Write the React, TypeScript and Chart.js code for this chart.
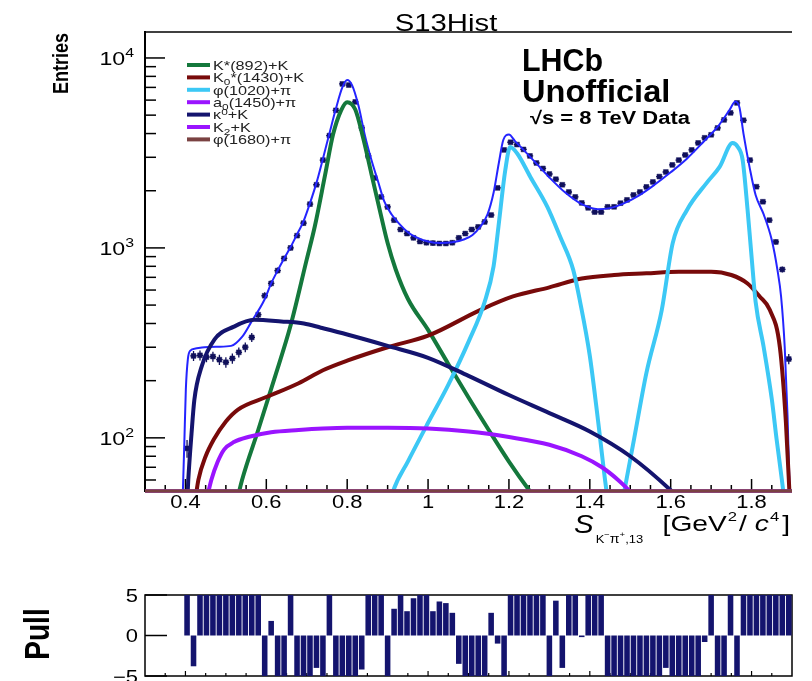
import React, { useEffect, useRef } from 'react';
import { Chart, registerables } from 'chart.js';
Chart.register(...registerables);

// ---------- axis / binning ----------
const X_MIN = 0.3;
const X_MAX = 1.9;
const Y_MIN = 52.5;
const Y_MAX = 13700;
const BIN_START = 0.3;
const BIN_WIDTH = 0.016;
const FIRST_DATA_BIN = 6;

const xTickValues = [0.4, 0.6, 0.8, 1.0, 1.2, 1.4, 1.6, 1.8];
const xTickLabels = ['0.4', '0.6', '0.8', '1', '1.2', '1.4', '1.6', '1.8'];
const yTickValues = [100, 1000, 10000];
const yTickExponents = ['2', '3', '4'];
const pullTickValues = [5, 0, -5];
const pullTickLabels = ['5', '0', '\u22125'];

// ---------- data (entries per bin, bins 6..99) ----------
const dataCounts = [
  88, 270, 272, 266, 268, 258, 250, 262, 282, 300, 338, 445, 560, 650, 760, 880, 1000, 1160, 1350, 1700,
  2150, 2900, 3900, 5300, 7300, 7200, 5870, 4280, 3050, 2335, 1855, 1643, 1400, 1250, 1190, 1130, 1080, 1065, 1060, 1055,
  1055, 1065, 1130, 1190, 1250, 1290, 1370, 1490, 2070, 3280, 3600, 3500, 3300, 3050, 2800, 2620, 2450, 2300, 2150, 1970,
  1855, 1725, 1625, 1545, 1545, 1645, 1645, 1720, 1790, 1900, 1970, 2095, 2225, 2375, 2510, 2735, 2900, 3085, 3280, 3570,
  3800, 3940, 4280, 4720, 5140, 5800, 4700, 2900, 2100, 1750, 1400, 1075, 770, 260,
];

// ---------- pulls (bins 0..99) ----------
const pullValues = [
  0, 0, 0, 0, 0, 0, 5, -3.8, 5, 5,
  5, 5, 5, 5, 5, 5, 5, 5, -5, 1.8,
  -5, -5, 5, -5, -5, -5, -4, -5, 5, -5,
  -5, -5, -5, -4.2, 5, 5, 5, -5, 3.3, 5,
  3, 4.6, 5, 5, 3, 4.2, 4, 2.8, -3.5, -5,
  -5, -5, -5, 2.8, -1, -5, 5, 5, 5, 5,
  5, 5, -5, 4.3, -4, 5, 5, -0.2, 5, 5,
  5, -5, -5, -5, -5, -5, -5, -5, -5, -5,
  -4, -5, -5, -5, -5, -5, -0.8, 5, -5, -5,
  5, -5, 5, 5, 5, 5, 5, 5, 5, 5,
];

// ---------- total fit ----------
const totalX = [0.392, 0.397, 0.401, 0.406, 0.412, 0.425, 0.447, 0.48, 0.513, 0.54, 0.563, 0.595, 0.612, 0.628, 0.644,
  0.66, 0.676, 0.692, 0.708, 0.724, 0.74, 0.756, 0.772, 0.788, 0.80, 0.812, 0.828, 0.844, 0.86, 0.876,
  0.892, 0.91, 0.93, 0.95, 0.97, 1.0, 1.03, 1.06, 1.09, 1.11, 1.13, 1.147, 1.162, 1.175, 1.186,
  1.2, 1.215, 1.235, 1.26, 1.3, 1.34, 1.38, 1.42, 1.45, 1.48, 1.52, 1.56, 1.6, 1.64, 1.68,
  1.72, 1.745, 1.76, 1.77, 1.78, 1.796, 1.81, 1.83, 1.85, 1.864, 1.873, 1.882, 1.889, 1.894, 1.9];
const totalY = [40, 90, 180, 260, 288, 295, 300, 302, 305, 340, 408, 532, 650, 760, 880,
  1010, 1180, 1380, 1720, 2200, 2950, 4000, 5400, 7000, 7650, 7200, 5600, 3900, 2900, 2250,
  1750, 1500, 1330, 1210, 1140, 1080, 1060, 1070, 1110, 1170, 1300, 1500, 1950, 2800, 3700,
  3950, 3650, 3300, 2900, 2350, 1950, 1700, 1600, 1620, 1700, 1880, 2150, 2500, 2950, 3600,
  4450, 5300, 5900, 5500, 4000, 2600, 1900, 1500, 1100, 766, 555, 300, 130, 55, 30];

// ---------- components ----------
const kstarX = [0.52, 0.54, 0.58, 0.62, 0.66, 0.70, 0.72, 0.745, 0.765, 0.785, 0.80, 0.82, 0.84, 0.86, 0.88, 0.90, 0.92, 0.95, 1.0, 1.05, 1.1, 1.15, 1.2, 1.25, 1.28];
const kstarY = [40, 60, 110, 205, 390, 870, 1300, 2400, 3950, 5300, 5850, 5350, 3750, 2450, 1600, 1060, 770, 540, 370, 245, 163, 110, 75, 53, 44];

const k0X = [0.42, 0.432, 0.45, 0.47, 0.5, 0.53, 0.6, 0.68, 0.74, 0.8, 0.9, 1.0, 1.13, 1.21, 1.3, 1.38, 1.46, 1.54, 1.62, 1.7, 1.75, 1.79, 1.82, 1.845, 1.87, 1.885, 1.895];
const k0Y = [40, 60, 80, 98, 122, 141, 164, 194, 227, 255, 300, 345, 472, 555, 620, 690, 720, 735, 750, 750, 720, 650, 555, 472, 300, 120, 45];

const phiX = [0.90, 0.913, 0.95, 1.0, 1.05, 1.1, 1.14, 1.162, 1.174, 1.191, 1.203, 1.22, 1.253, 1.295, 1.327, 1.359, 1.376, 1.40, 1.42, 1.44, 1.455,
  1.47, 1.485, 1.51, 1.54, 1.578, 1.605, 1.64, 1.689, 1.721, 1.753, 1.766, 1.778, 1.79, 1.80, 1.81, 1.83, 1.85, 1.862, 1.875, 1.885];
const phiY = [40, 52, 75, 120, 190, 320, 520, 800, 1290, 2570, 3400, 3150, 2365, 1645, 1140, 766, 520, 270, 125, 55, 35,
  35, 52, 100, 220, 472, 1060, 1580, 2200, 2670, 3570, 3400, 2900, 1600, 900, 520, 300, 160, 98, 60, 40];

const a0X = [0.45, 0.464, 0.48, 0.496, 0.52, 0.555, 0.612, 0.68, 0.74, 0.8, 0.9, 1.0, 1.1, 1.2, 1.3, 1.38, 1.43, 1.47, 1.5, 1.52];
const a0Y = [45, 60, 75, 87, 95, 101, 107, 110, 112, 113, 113, 112, 108, 101, 92, 80, 70, 60, 52, 46];

const kappaX = [0.400, 0.407, 0.415, 0.422, 0.44, 0.472, 0.52, 0.57, 0.637, 0.693, 0.735, 0.8, 0.9, 1.0, 1.1, 1.2, 1.3, 1.4, 1.5, 1.6, 1.62];
const kappaY = [30, 60, 105, 158, 237, 330, 385, 418, 410, 400, 380, 350, 305, 264, 212, 168, 135, 108, 80, 53, 48];

// components entirely below the plotted range are drawn at the minimum
const k2X = [0.3, 1.9];
const k2Y = [Y_MIN, Y_MIN];
const phi1680X = [0.3, 1.9];
const phi1680Y = [Y_MIN, Y_MIN];

const legendLabels = [
  [{ t: 'K*(892)+K' }],
  [{ t: 'K' }, { t: '0', sub: true }, { t: '*(1430)+K' }],
  [{ t: '\u03c6(1020)+\u03c0' }],
  [{ t: 'a' }, { t: '0', sub: true }, { t: '(1450)+\u03c0' }],
  [{ t: '\u03ba' }, { t: '0', sup: true }, { t: '+K' }],
  [{ t: 'K' }, { t: '2', sub: true }, { t: '+K' }],
  [{ t: '\u03c6(1680)+\u03c0' }],
];
const COL_KSTAR = '#14783c';
const COL_K0 = '#780a0a';
const COL_PHI = '#3cc8f5';
const COL_A0 = '#9a14ff';
const COL_KAPPA = '#14146e';
const COL_K2 = '#9a14ff';
const COL_PHI1680 = '#7a4242';
const COL_TOTAL = '#2424ff';
const COL_DATA = '#10105a';
const legendColors = [COL_KSTAR, COL_K0, COL_PHI, COL_A0, COL_KAPPA, COL_K2, COL_PHI1680];

// ---------- text helpers ----------
const FONT = '"Liberation Sans", Arial, Helvetica, sans-serif';
const STRETCH = 1.22;

function setFont(ctx, size, bold = false, italic = false) {
  ctx.font = `${italic ? 'italic ' : ''}${bold ? 'bold ' : ''}${size}px ${FONT}`;
}

type Run = { t: string; size: number; dy?: number; italic?: boolean; bold?: boolean; gap?: number };

function drawRuns(ctx, runs: Run[], x: number, y: number, align: string, stretch = STRETCH, color = '#000') {
  ctx.save();
  ctx.fillStyle = color;
  ctx.textBaseline = 'alphabetic';
  ctx.textAlign = 'left';
  const widths = runs.map((r) => {
    setFont(ctx, r.size, r.bold, r.italic);
    return ctx.measureText(r.t).width * stretch;
  });
  const total = runs.reduce((a, r, i) => a + widths[i] + (r.gap || 0), 0);
  let cx = align === 'left' ? x : align === 'right' ? x - total : x - total / 2;
  runs.forEach((r, i) => {
    cx += r.gap || 0;
    setFont(ctx, r.size, r.bold, r.italic);
    ctx.save();
    ctx.translate(cx, y + (r.dy || 0));
    ctx.scale(stretch, 1);
    ctx.fillText(r.t, 0, 0);
    ctx.restore();
    cx += widths[i];
  });
  ctx.restore();
}

function drawRotated(ctx, text, x, y, size, bold, align, stretch = STRETCH) {
  ctx.save();
  setFont(ctx, size, bold);
  ctx.fillStyle = '#000';
  ctx.textAlign = align;
  ctx.textBaseline = 'middle';
  ctx.translate(x, y);
  ctx.scale(stretch, 1);
  ctx.rotate(-Math.PI / 2);
  ctx.fillText(text, 0, 0);
  ctx.restore();
}

function line(ctx, x1, y1, x2, y2, w, color = '#000') {
  ctx.save();
  ctx.strokeStyle = color;
  ctx.lineWidth = w;
  ctx.beginPath();
  ctx.moveTo(x1, y1);
  ctx.lineTo(x2, y2);
  ctx.stroke();
  ctx.restore();
}

const binCenter = (i: number) => BIN_START + BIN_WIDTH * (i + 0.5);
const pts = (xs: number[], ys: number[]) => xs.map((x, i) => ({ x, y: ys[i] }));

const DATA_INDEX = 8;

// ---------- main chart plugin ----------
const mainDecor = {
  id: 'mainDecor',
  beforeDatasetsDraw(chart) {
    const { ctx, chartArea: a, scales } = chart;
    const xs = scales.x, ys = scales.y;
    line(ctx, a.left, a.top, a.right, a.top, 1.5);
    line(ctx, a.left, a.top - 1, a.left, a.bottom + 1, 2);
    line(ctx, a.left, a.bottom, a.right, a.bottom, 2);
    for (let d = 10; d <= 10000; d *= 10) {
      for (let k = 1; k <= 9; k++) {
        const v = d * k;
        if (v < Y_MIN || v > Y_MAX) continue;
        const py = ys.getPixelForValue(v);
        line(ctx, a.left, py, a.left + (k === 1 ? 20 : 11), py, 1.5);
      }
    }
    for (let j = 7; j <= 37; j++) {
      const v = j * 0.05;
      const px = xs.getPixelForValue(v);
      const major = j % 4 === 0;
      line(ctx, px, a.bottom, px, a.bottom - (major ? 12 : 6), 1.5);
    }
  },
  afterDatasetDraw(chart, args) {
    if (args.index !== DATA_INDEX) return;
    const { ctx, scales } = chart;
    const xs = scales.x, ys = scales.y;
    ctx.save();
    ctx.strokeStyle = COL_DATA;
    ctx.lineWidth = 1.3;
    dataCounts.forEach((n, k) => {
      const c = binCenter(FIRST_DATA_BIN + k);
      const err = Math.sqrt(n);
      const px = xs.getPixelForValue(c);
      const py = ys.getPixelForValue(n);
      ctx.beginPath();
      ctx.moveTo(xs.getPixelForValue(c - BIN_WIDTH / 2), py);
      ctx.lineTo(xs.getPixelForValue(c + BIN_WIDTH / 2), py);
      ctx.moveTo(px, ys.getPixelForValue(n + err));
      ctx.lineTo(px, ys.getPixelForValue(Math.max(n - err, 1)));
      ctx.stroke();
    });
    ctx.restore();
  },
  afterDraw(chart) {
    const { ctx, scales, chartArea: a } = chart;
    const xs = scales.x, ys = scales.y;
    drawRuns(ctx, [{ t: 'S13Hist', size: 24 }], 446, 31, 'center');
    yTickValues.forEach((v, i) => {
      const py = ys.getPixelForValue(v);
      drawRuns(ctx, [{ t: '10', size: 19 }, { t: yTickExponents[i], size: 13, dy: -8 }], a.left - 11, py + 7, 'right');
    });
    xTickValues.forEach((v, i) => {
      drawRuns(ctx, [{ t: xTickLabels[i], size: 18 }], xs.getPixelForValue(v), a.bottom + 17, 'center');
    });
    drawRotated(ctx, 'Entries', 62, a.top + 1, 18, true, 'right');
    // x-axis title
    drawRuns(ctx, [
      { t: 'S', size: 25, italic: true },
      { t: 'K', size: 11, dy: 10, gap: 2 },
      { t: '\u2212', size: 8, dy: 4 },
      { t: '\u03c0', size: 12, dy: 10 },
      { t: '+', size: 8, dy: 4 },
      { t: ',13', size: 11, dy: 10 },
    ], 574, 533, 'left', 1.18);
    drawRuns(ctx, [
      { t: '[GeV', size: 22 },
      { t: '2', size: 13, dy: -10, gap: 1 },
      { t: '/', size: 22, gap: 2 },
      { t: 'c', size: 22, italic: true, gap: 8 },
      { t: '4', size: 13, dy: -10, gap: 1 },
      { t: ']', size: 22, gap: 3 },
    ], 790, 531, 'right', 1.28);
    // legend
    legendLabels.forEach((lab, i) => {
      const y = 65 + i * 12.4;
      line(ctx, 187, y, 210, y, 4, legendColors[i]);
      const runs = lab.map((r: any) => ({
        t: r.t,
        size: r.sub || r.sup ? 9.5 : 13,
        dy: r.sub ? 3 : r.sup ? -4 : 0,
      }));
      drawRuns(ctx, runs, 213, y + 4.7, 'left', 1.25, '#222');
    });
    // LHCb label
    drawRuns(ctx, [{ t: 'LHCb', size: 31, bold: true }], 522, 71, 'left', 0.98);
    drawRuns(ctx, [{ t: 'Unofficial', size: 31, bold: true }], 522, 102, 'left', 1.05);
    drawRuns(ctx, [{ t: '\u221as = 8 TeV Data', size: 18, bold: true }], 530, 124, 'left', 1.22);
  },
};

function mainConfig(): any {
  const lineDs = (label, xs, ys, color, width, clip: any = 0) => ({
    label,
    data: pts(xs, ys),
    borderColor: color,
    backgroundColor: color,
    borderWidth: width,
    pointRadius: 0,
    fill: false,
    cubicInterpolationMode: 'monotone',
    clip,
  });
  return {
    type: 'line',
    data: {
      datasets: [
        lineDs('\u03c6(1680)+\u03c0', phi1680X, phi1680Y, COL_PHI1680, 3.5, false),
        lineDs('K2+K', k2X, k2Y, COL_K2, 3.5, false),
        lineDs('\u03ba0+K', kappaX, kappaY, COL_KAPPA, 4),
        lineDs('a0(1450)+\u03c0', a0X, a0Y, COL_A0, 4),
        lineDs('\u03c6(1020)+\u03c0', phiX, phiY, COL_PHI, 4),
        lineDs('K0*(1430)+K', k0X, k0Y, COL_K0, 4),
        lineDs('K*(892)+K', kstarX, kstarY, COL_KSTAR, 4),
        lineDs('Total', totalX, totalY, COL_TOTAL, 2),
        {
          label: 'Data',
          data: dataCounts.map((n, k) => ({ x: binCenter(FIRST_DATA_BIN + k), y: n })),
          showLine: false,
          pointStyle: 'rect',
          pointRadius: 3.4,
          pointBackgroundColor: COL_DATA,
          pointBorderColor: COL_DATA,
          pointBorderWidth: 0.5,
          clip: 0,
        },
      ],
    },
    options: {
      animation: false,
      responsive: false,
      maintainAspectRatio: false,
      events: [],
      layout: { padding: { left: 0, right: 20, top: 32, bottom: 0 } },
      plugins: { legend: { display: false }, title: { display: false }, tooltip: { enabled: false } },
      scales: {
        x: {
          type: 'linear', min: X_MIN, max: X_MAX,
          grid: { display: false }, border: { display: false }, ticks: { display: false },
          afterFit: (s) => { s.height = 69; s.paddingLeft = 0; s.paddingRight = 0; },
        },
        y: {
          type: 'logarithmic', min: Y_MIN, max: Y_MAX,
          grid: { display: false }, border: { display: false }, ticks: { display: false },
          afterFit: (s) => { s.width = 145; s.paddingTop = 0; s.paddingBottom = 0; },
        },
      },
    },
    plugins: [mainDecor],
  };
}

// ---------- pull chart ----------
const pullDecor = {
  id: 'pullDecor',
  beforeDatasetsDraw(chart) {
    const { ctx, chartArea: a, scales } = chart;
    const xs = scales.x, ys = scales.y;
    ctx.save();
    ctx.strokeStyle = '#000';
    ctx.lineWidth = 1.5;
    ctx.strokeRect(a.left, a.top, a.right - a.left, a.bottom - a.top);
    ctx.restore();
    pullTickValues.forEach((v) => {
      const py = ys.getPixelForValue(v);
      line(ctx, a.left, py, a.left + 22, py, 1.5);
    });
    for (let j = 7; j <= 37; j++) {
      const v = j * 0.05;
      const px = xs.getPixelForValue(v);
      line(ctx, px, a.bottom, px, a.bottom - (j % 4 === 0 ? 5 : 3), 1.2);
    }
  },
  afterDraw(chart) {
    const { ctx, chartArea: a, scales } = chart;
    const ys = scales.y;
    pullTickValues.forEach((v, i) => {
      drawRuns(ctx, [{ t: pullTickLabels[i], size: 18 }], a.left - 7, ys.getPixelForValue(v) + 6.5, 'right');
    });
    drawRotated(ctx, 'Pull', 40, 634 - 560, 28, true, 'center');
  },
};

function pullConfig(): any {
  return {
    type: 'bar',
    data: {
      datasets: [{
        label: 'Pull',
        data: pullValues.map((v, i) => ({ x: binCenter(i), y: v })),
        backgroundColor: COL_KAPPA,
        borderWidth: 0,
        barPercentage: 0.86,
        categoryPercentage: 1,
      }],
    },
    options: {
      animation: false,
      responsive: false,
      maintainAspectRatio: false,
      events: [],
      layout: { padding: { left: 0, right: 20, top: 35, bottom: 5 } },
      plugins: { legend: { display: false }, title: { display: false }, tooltip: { enabled: false } },
      scales: {
        x: {
          type: 'linear', min: X_MIN, max: X_MAX, offset: false, display: false,
          grid: { display: false }, border: { display: false }, ticks: { display: false },
        },
        y: {
          type: 'linear', min: -5, max: 5,
          grid: { display: false }, border: { display: false }, ticks: { display: false },
          afterFit: (s) => { s.width = 145; s.paddingTop = 0; s.paddingBottom = 0; },
        },
      },
    },
    plugins: [pullDecor],
  };
}

export default function App() {
  const mainRef = useRef<HTMLCanvasElement>(null);
  const pullRef = useRef<HTMLCanvasElement>(null);
  useEffect(() => {
    const c1 = new Chart(mainRef.current as HTMLCanvasElement, mainConfig());
    const c2 = new Chart(pullRef.current as HTMLCanvasElement, pullConfig());
    return () => {
      c1.destroy();
      c2.destroy();
    };
  }, []);
  return (
    <div style={{ position: 'fixed', left: 0, top: 0, width: 812, height: 681, background: '#fff', overflow: 'hidden' }}>
      <canvas ref={mainRef} width={812} height={560} style={{ position: 'absolute', left: 0, top: 0, width: 812, height: 560 }} />
      <canvas ref={pullRef} width={812} height={121} style={{ position: 'absolute', left: 0, top: 560, width: 812, height: 121 }} />
    </div>
  );
}
